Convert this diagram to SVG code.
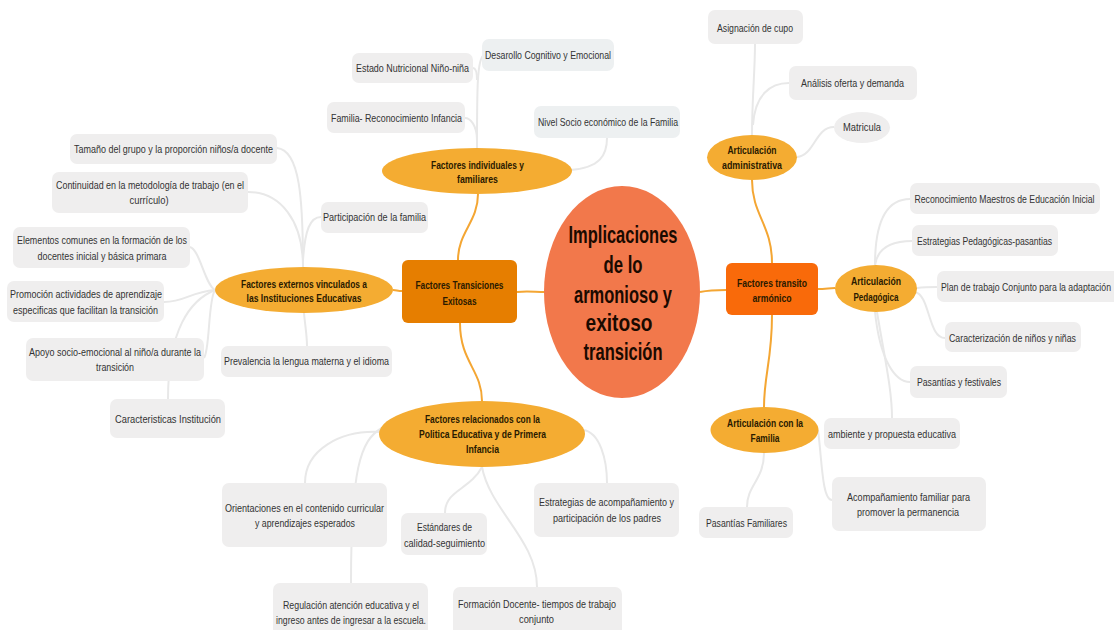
<svg xmlns="http://www.w3.org/2000/svg" width="1114" height="630" viewBox="0 0 1114 630">
<style>
.leaf{fill:#EFEEEE}
.leafb{fill:#EDF0F1}
.lt{font-family:"Liberation Sans Narrow","Liberation Sans",Arial,sans-serif;font-size:10.5px;fill:#333;text-anchor:middle}
.bt{font-family:"Liberation Sans Narrow","Liberation Sans",Arial,sans-serif;font-size:10.5px;font-weight:bold;fill:#2a1a00;text-anchor:middle}
.ct{font-family:"Liberation Sans Narrow","Liberation Sans",Arial,sans-serif;font-size:24px;font-weight:bold;fill:#1a0a00;text-anchor:middle}
.ell{fill:#F4AC32}
.main{fill:none;stroke:#F4A633;stroke-width:2}
.sub{fill:none;stroke:#E8E8E8;stroke-width:2}
</style>
<rect width="1114" height="630" fill="#FFFFFF"/>
<g id="connectors">
<path class="main" d="M545,292 C535,292 527,291 517,292"/>
<path class="main" d="M402,291 C398,291 396,290 393,290"/>
<path class="main" d="M458,260 C458,232 478,222 478,194"/>
<path class="main" d="M460,323 C460,362 482,370 482,401"/>
<path class="main" d="M700,292 C710,290 716,290 726,290"/>
<path class="main" d="M772,263 C772,225 752,215 752,180"/>
<path class="main" d="M772,315 C772,360 764,375 764,407"/>
<path class="main" d="M818,289 C825,289 830,288 835,288"/>
<path class="sub" d="M477,148 C477,90 477,58 484,55"/>
<path class="sub" d="M477,80 C477,72 476,68 473,68"/>
<path class="sub" d="M477,140 C477,125 470,118 465,118"/>
<path class="sub" d="M570,170 C600,168 607,155 607,138"/>
<path class="sub" d="M303,267 C303,200 300,150 277,148"/>
<path class="sub" d="M303,267 C303,220 280,192 248,192"/>
<path class="sub" d="M303,260 C305,230 310,217 321,217"/>
<path class="sub" d="M304,313 C305,325 307,335 307,346"/>
<path class="sub" d="M215,290 C205,285 200,250 190,247"/>
<path class="sub" d="M215,290 C190,292 185,302 164,302"/>
<path class="sub" d="M215,290 C208,300 210,350 204,358"/>
<path class="sub" d="M215,290 C190,300 168,330 168,399"/>
<path class="sub" d="M380,432 C340,430 305,450 305,483"/>
<path class="sub" d="M382,428 C360,440 351,470 351,583"/>
<path class="sub" d="M482,467 C470,490 445,490 445,513"/>
<path class="sub" d="M482,467 C490,510 537,540 537,587"/>
<path class="sub" d="M583,430 C600,432 607,460 607,483"/>
<path class="sub" d="M752,135 C752,100 755,70 755,44"/>
<path class="sub" d="M753,125 C755,95 770,83 789,83"/>
<path class="sub" d="M797,157 C815,155 815,127 834,127"/>
<path class="sub" d="M875,265 C875,215 890,199 910,199"/>
<path class="sub" d="M875,265 C878,245 895,241 912,241"/>
<path class="sub" d="M917,288 C925,287 930,287 937,287"/>
<path class="sub" d="M915,292 C930,295 928,338 945,338"/>
<path class="sub" d="M875,312 C880,360 895,382 910,382"/>
<path class="sub" d="M877,312 C885,360 892,390 892,418"/>
<path class="sub" d="M818,430 C822,460 822,500 832,500"/>
<path class="sub" d="M764,453 C764,480 747,485 747,507"/>
</g>
<g id="central">
<ellipse cx="622" cy="292" rx="78" ry="106" fill="#F2784B"/>
<text class="ct" x="623" y="243" textLength="109" lengthAdjust="spacingAndGlyphs">Implicaciones</text>
<text class="ct" x="623" y="273" textLength="39" lengthAdjust="spacingAndGlyphs">de lo</text>
<text class="ct" x="623" y="303" textLength="98" lengthAdjust="spacingAndGlyphs">armonioso y</text>
<text class="ct" x="619" y="331" textLength="67" lengthAdjust="spacingAndGlyphs">exitoso</text>
<text class="ct" x="623" y="360" textLength="79" lengthAdjust="spacingAndGlyphs">transición</text>
</g>
<g id="transiciones">
<rect x="402" y="260" width="115" height="63" rx="6" fill="#E67E00"/>
<text class="bt" x="459.5" y="289" textLength="88" lengthAdjust="spacingAndGlyphs">Factores Transiciones</text>
<text class="bt" x="459.5" y="305" textLength="34" lengthAdjust="spacingAndGlyphs">Exitosas</text>
</g>
<g id="transito">
<rect x="726" y="263" width="92" height="52" rx="6" fill="#F96A0A"/>
<text class="bt" x="772" y="287" textLength="70" lengthAdjust="spacingAndGlyphs">Factores transito</text>
<text class="bt" x="772" y="302" textLength="39" lengthAdjust="spacingAndGlyphs">armónico</text>
</g>
<g id="individuales">
<ellipse class="ell" cx="477" cy="171" rx="95" ry="23"/>
<text class="bt" x="477.5" y="169" textLength="93" lengthAdjust="spacingAndGlyphs">Factores individuales y</text>
<text class="bt" x="477.5" y="183" textLength="41" lengthAdjust="spacingAndGlyphs">familiares</text>
</g>
<g id="externos">
<ellipse class="ell" cx="304" cy="290" rx="89" ry="23"/>
<text class="bt" x="304" y="288" textLength="126" lengthAdjust="spacingAndGlyphs">Factores externos vinculados a</text>
<text class="bt" x="304" y="302" textLength="115" lengthAdjust="spacingAndGlyphs">las Instituciones Educativas</text>
</g>
<g id="politica">
<ellipse class="ell" cx="482" cy="434" rx="103" ry="33"/>
<text class="bt" x="482.5" y="423" textLength="115" lengthAdjust="spacingAndGlyphs">Factores relacionados con la</text>
<text class="bt" x="482.5" y="438" textLength="127" lengthAdjust="spacingAndGlyphs">Politica Educativa y de Primera</text>
<text class="bt" x="482.5" y="453" textLength="33" lengthAdjust="spacingAndGlyphs">Infancia</text>
</g>
<g id="admin">
<ellipse class="ell" cx="752" cy="157.5" rx="45" ry="22.5"/>
<text class="bt" x="752" y="154" textLength="49" lengthAdjust="spacingAndGlyphs">Articulación</text>
<text class="bt" x="752" y="169" textLength="60" lengthAdjust="spacingAndGlyphs">administrativa</text>
</g>
<g id="pedagogica">
<ellipse class="ell" cx="876" cy="288.5" rx="41" ry="23.5"/>
<text class="bt" x="876" y="285" textLength="50" lengthAdjust="spacingAndGlyphs">Articulación</text>
<text class="bt" x="876" y="301" textLength="45" lengthAdjust="spacingAndGlyphs">Pedagógica</text>
</g>
<g id="familia">
<ellipse class="ell" cx="764.5" cy="430" rx="54" ry="23"/>
<text class="bt" x="765" y="427" textLength="76" lengthAdjust="spacingAndGlyphs">Articulación con la</text>
<text class="bt" x="765" y="442" textLength="29" lengthAdjust="spacingAndGlyphs">Familia</text>
</g>
<g id="tamano"><rect class="leaf" x="70" y="134" width="207" height="30" rx="7"/><text class="lt" x="173.5" y="153" textLength="199" lengthAdjust="spacingAndGlyphs">Tamaño del grupo y la proporción niños/a docente</text></g>
<g id="continuidad"><rect class="leaf" x="52" y="172" width="196" height="41" rx="7"/><text class="lt" x="150" y="189" textLength="188" lengthAdjust="spacingAndGlyphs">Continuidad en la metodología de trabajo (en el</text><text class="lt" x="149" y="204" textLength="39" lengthAdjust="spacingAndGlyphs">currículo)</text></g>
<g id="elementos"><rect class="leaf" x="13" y="227" width="177" height="41" rx="7"/><text class="lt" x="102" y="244" textLength="170" lengthAdjust="spacingAndGlyphs">Elementos comunes en la formación de los</text><text class="lt" x="102" y="260" textLength="129" lengthAdjust="spacingAndGlyphs">docentes inicial y básica primara</text></g>
<g id="promocion"><rect class="leaf" x="7" y="281" width="157" height="41" rx="7"/><text class="lt" x="86" y="298" textLength="152" lengthAdjust="spacingAndGlyphs">Promoción actividades de aprendizaje</text><text class="lt" x="85.5" y="314" textLength="145" lengthAdjust="spacingAndGlyphs">especificas que facilitan la transición</text></g>
<g id="apoyo"><rect class="leaf" x="26" y="338" width="178" height="43" rx="7"/><text class="lt" x="115" y="356" textLength="172" lengthAdjust="spacingAndGlyphs">Apoyo socio-emocional al niño/a durante la</text><text class="lt" x="115" y="371" textLength="38" lengthAdjust="spacingAndGlyphs">transición</text></g>
<g id="caracteristicas"><rect class="leaf" x="110" y="399" width="115" height="39" rx="7"/><text class="lt" x="168" y="423" textLength="106" lengthAdjust="spacingAndGlyphs">Caracteristicas Institución</text></g>
<g id="participacion"><rect class="leaf" x="321" y="202" width="107" height="31" rx="7"/><text class="lt" x="374.5" y="221" textLength="103" lengthAdjust="spacingAndGlyphs">Participación de la familia</text></g>
<g id="prevalencia"><rect class="leaf" x="221" y="346" width="171" height="31" rx="7"/><text class="lt" x="306.5" y="365" textLength="165" lengthAdjust="spacingAndGlyphs">Prevalencia la lengua materna y el idioma</text></g>
<g id="desarollo"><rect class="leafb" x="482" y="39" width="132" height="32" rx="7"/><text class="lt" x="548" y="59" textLength="126" lengthAdjust="spacingAndGlyphs">Desarollo Cognitivo y Emocional</text></g>
<g id="estado"><rect class="leaf" x="352" y="53" width="121" height="30" rx="7"/><text class="lt" x="412.5" y="72" textLength="113" lengthAdjust="spacingAndGlyphs">Estado Nutricional Niño-niña</text></g>
<g id="familiarec"><rect class="leaf" x="327" y="102" width="138" height="31" rx="7"/><text class="lt" x="396.5" y="122" textLength="131" lengthAdjust="spacingAndGlyphs">Familia- Reconocimiento Infancia</text></g>
<g id="nivel"><rect class="leafb" x="534" y="106" width="146" height="32" rx="7"/><text class="lt" x="608" y="126" textLength="140" lengthAdjust="spacingAndGlyphs">Nivel Socio económico de la Familia</text></g>
<g id="asignacion"><rect class="leaf" x="708" y="10" width="95" height="34" rx="7"/><text class="lt" x="755" y="32" textLength="76" lengthAdjust="spacingAndGlyphs">Asignación de cupo</text></g>
<g id="analisis"><rect class="leaf" x="789" y="66" width="128" height="34" rx="7"/><text class="lt" x="852.5" y="87" textLength="103" lengthAdjust="spacingAndGlyphs">Análisis oferta y demanda</text></g>
<g id="matricula"><ellipse class="leaf" cx="862" cy="127.5" rx="28" ry="15.5"/><text class="lt" x="862" y="131" textLength="38" lengthAdjust="spacingAndGlyphs">Matricula</text></g>
<g id="reconocimiento"><rect class="leaf" x="910" y="183" width="190" height="31" rx="7"/><text class="lt" x="1004.5" y="203" textLength="180" lengthAdjust="spacingAndGlyphs">Reconocimiento Maestros de Educación Inicial</text></g>
<g id="estrategiasped"><rect class="leaf" x="912" y="225" width="146" height="31" rx="7"/><text class="lt" x="984.5" y="245" textLength="135" lengthAdjust="spacingAndGlyphs">Estrategias Pedagógicas-pasantias</text></g>
<g id="plan"><rect class="leaf" x="937" y="271" width="190" height="31" rx="7"/><text class="lt" x="941" y="291" textLength="170" lengthAdjust="spacingAndGlyphs" style="text-anchor:start">Plan de trabajo Conjunto para la adaptación</text></g>
<g id="caracterizacion"><rect class="leaf" x="945" y="322" width="136" height="30" rx="7"/><text class="lt" x="1012.5" y="342" textLength="127" lengthAdjust="spacingAndGlyphs">Caracterización de niños y niñas</text></g>
<g id="pasantias"><rect class="leaf" x="910" y="366" width="97" height="32" rx="7"/><text class="lt" x="959" y="386" textLength="84" lengthAdjust="spacingAndGlyphs">Pasantías y festivales</text></g>
<g id="ambiente"><rect class="leaf" x="824" y="418" width="136" height="31" rx="7"/><text class="lt" x="892" y="438" textLength="128" lengthAdjust="spacingAndGlyphs">ambiente y propuesta educativa</text></g>
<g id="acompanamiento"><rect class="leaf" x="832" y="477" width="154" height="54" rx="7"/><text class="lt" x="908.5" y="501" textLength="123" lengthAdjust="spacingAndGlyphs">Acompañamiento familiar para</text><text class="lt" x="908" y="516" textLength="102" lengthAdjust="spacingAndGlyphs">promover la permanencia</text></g>
<g id="pasantiasfam"><rect class="leaf" x="699" y="507" width="94" height="31" rx="7"/><text class="lt" x="746.5" y="527" textLength="81" lengthAdjust="spacingAndGlyphs">Pasantías Familiares</text></g>
<g id="orientaciones"><rect class="leaf" x="222" y="483" width="165" height="64" rx="7"/><text class="lt" x="304.5" y="512" textLength="159" lengthAdjust="spacingAndGlyphs">Orientaciones en el contenido curricular</text><text class="lt" x="305" y="527" textLength="100" lengthAdjust="spacingAndGlyphs">y aprendizajes esperados</text></g>
<g id="estandares"><rect class="leaf" x="401" y="513" width="86" height="42" rx="7"/><text class="lt" x="444.5" y="531" textLength="55" lengthAdjust="spacingAndGlyphs">Estándares de</text><text class="lt" x="444.5" y="547" textLength="81" lengthAdjust="spacingAndGlyphs">calidad-seguimiento</text></g>
<g id="regulacion"><rect class="leaf" x="273" y="583" width="155" height="55" rx="7"/><text class="lt" x="351" y="609" textLength="136" lengthAdjust="spacingAndGlyphs">Regulación atención educativa y el</text><text class="lt" x="351" y="624" textLength="150" lengthAdjust="spacingAndGlyphs">ingreso antes de ingresar a la escuela.</text></g>
<g id="formacion"><rect class="leaf" x="453" y="587" width="169" height="50" rx="7"/><text class="lt" x="537" y="608" textLength="158" lengthAdjust="spacingAndGlyphs">Formación Docente- tiempos de trabajo</text><text class="lt" x="536.5" y="623" textLength="35" lengthAdjust="spacingAndGlyphs">conjunto</text></g>
<g id="estrategiasacomp"><rect class="leaf" x="534" y="483" width="145" height="54" rx="7"/><text class="lt" x="606.5" y="506" textLength="135" lengthAdjust="spacingAndGlyphs">Estrategias de acompañamiento y</text><text class="lt" x="607" y="522" textLength="108" lengthAdjust="spacingAndGlyphs">participación de los padres</text></g>
</svg>
